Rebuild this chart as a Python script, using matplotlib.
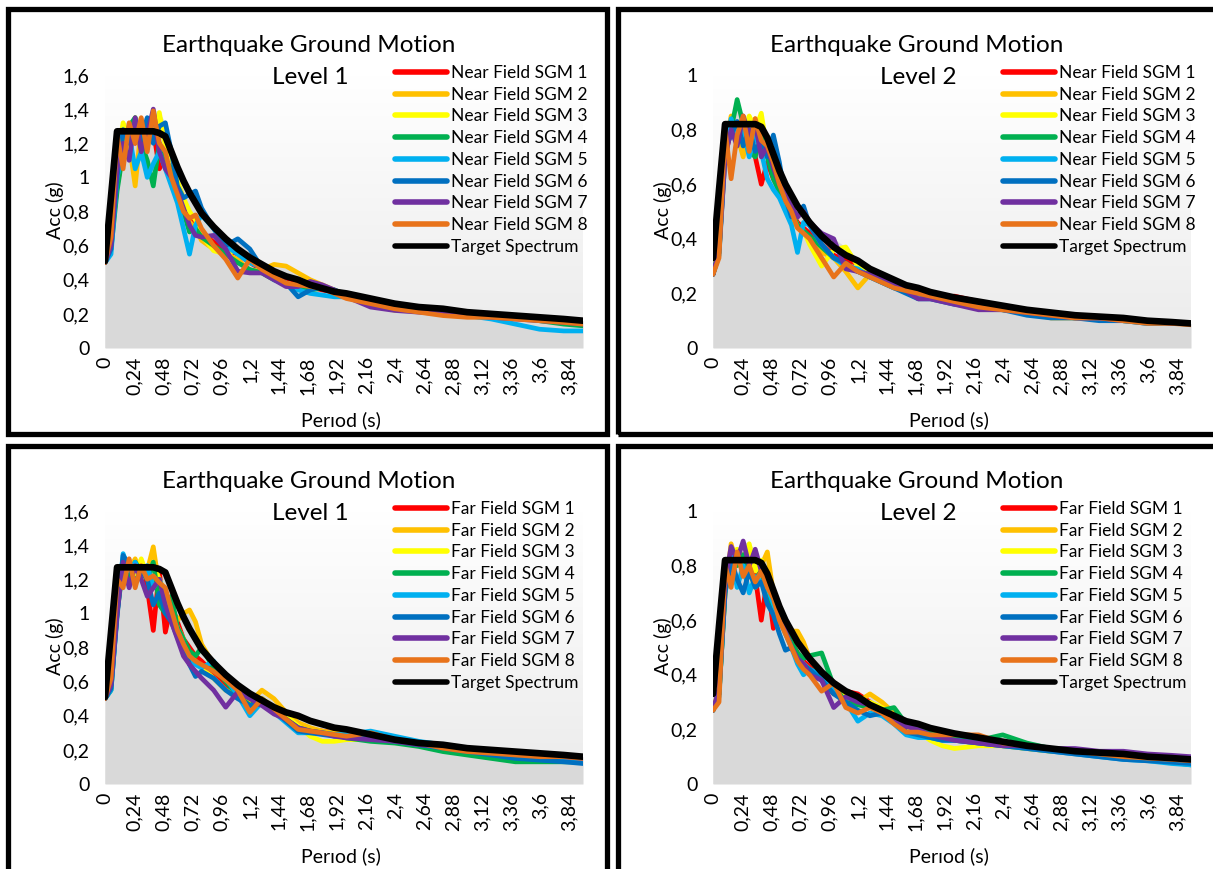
import numpy as np
import matplotlib.pyplot as plt
from matplotlib.patches import Rectangle
from matplotlib.colors import LinearSegmentedColormap

plt.rcParams['font.family'] = ['Lato', 'DejaVu Sans']

# period grid (s) shared by all spectra
periods = [0, 0.05, 0.1, 0.15, 0.2, 0.25, 0.3, 0.35, 0.4, 0.45, 0.5, 0.55, 0.6, 0.65,
           0.7, 0.75, 0.8, 0.9, 1.0, 1.1, 1.2, 1.3, 1.4, 1.5, 1.6, 1.7, 1.8, 1.9,
           2.0, 2.2, 2.4, 2.6, 2.8, 3.0, 3.2, 3.4, 3.6, 3.8, 3.96]

x_ticks = [0, 0.24, 0.48, 0.72, 0.96, 1.2, 1.44, 1.68, 1.92, 2.16, 2.4, 2.64, 2.88,
           3.12, 3.36, 3.6, 3.84]

target_l1 = [0.51, 0.89, 1.27, 1.27, 1.27, 1.27, 1.27, 1.27, 1.27, 1.26, 1.24, 1.15, 1.06,
             0.98, 0.91, 0.85, 0.79, 0.71, 0.64, 0.58, 0.53, 0.49, 0.45, 0.42, 0.40, 0.37,
             0.35, 0.33, 0.32, 0.29, 0.26, 0.24, 0.23, 0.21, 0.20, 0.19, 0.18, 0.17, 0.16]

target_l2 = [0.33, 0.58, 0.82, 0.82, 0.82, 0.82, 0.82, 0.82, 0.81, 0.77, 0.71, 0.65, 0.60,
             0.56, 0.52, 0.49, 0.46, 0.41, 0.37, 0.34, 0.32, 0.29, 0.27, 0.25, 0.23, 0.22,
             0.205, 0.195, 0.185, 0.17, 0.155, 0.14, 0.13, 0.12, 0.115, 0.11, 0.10, 0.095, 0.09]

near_l1 = [
    [0.50, 0.62, 0.95, 1.15, 1.25, 1.20, 1.30, 1.22, 1.28, 1.05, 1.12, 1.00, 0.93, 0.82, 0.76, 0.72, 0.68, 0.62, 0.58, 0.55, 0.50, 0.46, 0.42, 0.41, 0.39, 0.36, 0.34, 0.33, 0.31, 0.27, 0.25, 0.23, 0.22, 0.21, 0.20, 0.19, 0.18, 0.17, 0.16],
    [0.50, 0.60, 1.05, 1.25, 1.20, 0.95, 1.30, 1.18, 1.33, 1.20, 1.10, 1.02, 0.90, 0.80, 0.74, 0.70, 0.63, 0.58, 0.55, 0.52, 0.45, 0.46, 0.49, 0.48, 0.44, 0.40, 0.37, 0.34, 0.31, 0.27, 0.23, 0.22, 0.21, 0.20, 0.19, 0.19, 0.18, 0.17, 0.16],
    [0.50, 0.62, 1.10, 1.32, 1.22, 1.35, 1.20, 1.30, 1.25, 1.38, 1.18, 1.12, 0.98, 0.88, 0.80, 0.75, 0.66, 0.57, 0.55, 0.58, 0.50, 0.48, 0.45, 0.42, 0.40, 0.38, 0.36, 0.33, 0.31, 0.27, 0.22, 0.22, 0.21, 0.20, 0.19, 0.19, 0.18, 0.17, 0.15],
    [0.50, 0.58, 0.92, 1.15, 1.30, 1.35, 1.20, 1.10, 0.95, 1.20, 1.10, 1.05, 0.90, 0.80, 0.68, 0.70, 0.65, 0.60, 0.55, 0.50, 0.46, 0.44, 0.40, 0.38, 0.35, 0.34, 0.35, 0.34, 0.31, 0.27, 0.24, 0.22, 0.21, 0.20, 0.19, 0.18, 0.16, 0.14, 0.13],
    [0.50, 0.55, 1.00, 1.15, 1.25, 1.05, 1.15, 1.00, 1.08, 1.15, 1.05, 0.95, 0.85, 0.70, 0.55, 0.72, 0.78, 0.70, 0.60, 0.55, 0.50, 0.47, 0.40, 0.37, 0.34, 0.32, 0.31, 0.30, 0.30, 0.28, 0.25, 0.23, 0.21, 0.19, 0.17, 0.14, 0.11, 0.10, 0.10],
    [0.50, 0.58, 1.00, 1.28, 1.20, 1.30, 1.22, 1.35, 1.20, 1.30, 1.32, 1.15, 0.95, 0.88, 0.90, 0.92, 0.82, 0.70, 0.60, 0.64, 0.58, 0.47, 0.42, 0.38, 0.30, 0.34, 0.36, 0.34, 0.31, 0.28, 0.25, 0.23, 0.21, 0.20, 0.19, 0.18, 0.17, 0.16, 0.16],
    [0.50, 0.60, 1.05, 1.20, 1.10, 1.35, 1.15, 1.25, 1.40, 1.15, 1.05, 1.00, 0.92, 0.82, 0.72, 0.66, 0.65, 0.66, 0.58, 0.45, 0.44, 0.44, 0.40, 0.36, 0.36, 0.39, 0.37, 0.34, 0.30, 0.24, 0.22, 0.21, 0.20, 0.19, 0.18, 0.17, 0.16, 0.15, 0.14],
    [0.50, 0.65, 1.25, 1.05, 1.32, 1.20, 1.35, 1.15, 1.39, 1.20, 1.15, 1.00, 0.90, 0.80, 0.76, 0.78, 0.70, 0.60, 0.52, 0.41, 0.52, 0.46, 0.42, 0.38, 0.37, 0.36, 0.35, 0.32, 0.29, 0.26, 0.23, 0.21, 0.19, 0.18, 0.18, 0.17, 0.16, 0.15, 0.14],
]

near_l2 = [
    [0.27, 0.35, 0.70, 0.80, 0.78, 0.82, 0.75, 0.70, 0.60, 0.68, 0.62, 0.58, 0.55, 0.50, 0.46, 0.44, 0.42, 0.38, 0.34, 0.32, 0.31, 0.28, 0.26, 0.24, 0.22, 0.20, 0.19, 0.18, 0.19, 0.17, 0.15, 0.14, 0.12, 0.12, 0.11, 0.10, 0.10, 0.09, 0.09],
    [0.27, 0.35, 0.72, 0.85, 0.78, 0.70, 0.80, 0.84, 0.75, 0.70, 0.65, 0.58, 0.52, 0.48, 0.44, 0.42, 0.40, 0.35, 0.33, 0.28, 0.22, 0.27, 0.26, 0.24, 0.22, 0.20, 0.20, 0.18, 0.17, 0.15, 0.14, 0.13, 0.11, 0.11, 0.11, 0.10, 0.10, 0.09, 0.09],
    [0.27, 0.38, 0.75, 0.82, 0.80, 0.78, 0.85, 0.80, 0.86, 0.72, 0.68, 0.62, 0.56, 0.50, 0.45, 0.43, 0.38, 0.30, 0.36, 0.37, 0.30, 0.27, 0.25, 0.24, 0.21, 0.20, 0.19, 0.18, 0.17, 0.15, 0.14, 0.13, 0.12, 0.11, 0.11, 0.10, 0.10, 0.09, 0.09],
    [0.27, 0.36, 0.74, 0.80, 0.91, 0.82, 0.72, 0.70, 0.80, 0.70, 0.62, 0.57, 0.54, 0.50, 0.45, 0.43, 0.41, 0.37, 0.33, 0.31, 0.28, 0.27, 0.25, 0.23, 0.21, 0.20, 0.19, 0.19, 0.18, 0.16, 0.15, 0.14, 0.12, 0.12, 0.11, 0.10, 0.10, 0.09, 0.09],
    [0.27, 0.34, 0.70, 0.84, 0.76, 0.80, 0.70, 0.78, 0.72, 0.62, 0.58, 0.55, 0.50, 0.45, 0.35, 0.46, 0.45, 0.38, 0.33, 0.30, 0.29, 0.26, 0.24, 0.22, 0.21, 0.20, 0.19, 0.18, 0.17, 0.15, 0.14, 0.13, 0.12, 0.11, 0.11, 0.10, 0.09, 0.09, 0.09],
    [0.27, 0.35, 0.73, 0.78, 0.83, 0.74, 0.80, 0.72, 0.76, 0.70, 0.78, 0.68, 0.55, 0.48, 0.48, 0.52, 0.45, 0.38, 0.33, 0.31, 0.28, 0.26, 0.24, 0.22, 0.20, 0.18, 0.18, 0.17, 0.16, 0.15, 0.14, 0.12, 0.11, 0.11, 0.10, 0.10, 0.09, 0.09, 0.09],
    [0.27, 0.36, 0.70, 0.80, 0.74, 0.85, 0.78, 0.82, 0.70, 0.74, 0.66, 0.60, 0.56, 0.52, 0.48, 0.50, 0.46, 0.42, 0.40, 0.29, 0.28, 0.27, 0.26, 0.23, 0.21, 0.18, 0.18, 0.17, 0.16, 0.14, 0.14, 0.13, 0.12, 0.11, 0.11, 0.10, 0.10, 0.09, 0.09],
    [0.27, 0.33, 0.80, 0.62, 0.78, 0.85, 0.72, 0.84, 0.76, 0.74, 0.68, 0.60, 0.54, 0.50, 0.44, 0.42, 0.40, 0.33, 0.26, 0.31, 0.28, 0.26, 0.24, 0.22, 0.21, 0.20, 0.19, 0.18, 0.17, 0.15, 0.14, 0.13, 0.12, 0.11, 0.11, 0.10, 0.09, 0.09, 0.085],
]

far_l1 = [
    [0.50, 0.60, 1.05, 1.25, 1.30, 1.20, 1.28, 1.15, 0.90, 1.25, 0.89, 1.05, 0.95, 0.85, 0.80, 0.75, 0.72, 0.65, 0.58, 0.52, 0.50, 0.47, 0.43, 0.40, 0.35, 0.32, 0.31, 0.30, 0.29, 0.27, 0.26, 0.24, 0.22, 0.20, 0.19, 0.18, 0.17, 0.16, 0.15],
    [0.50, 0.58, 1.02, 1.30, 1.25, 1.32, 1.20, 1.25, 1.39, 1.15, 1.10, 1.00, 0.96, 1.00, 1.02, 0.95, 0.82, 0.70, 0.62, 0.52, 0.48, 0.55, 0.50, 0.42, 0.36, 0.33, 0.31, 0.30, 0.29, 0.29, 0.27, 0.24, 0.22, 0.20, 0.19, 0.18, 0.17, 0.16, 0.15],
    [0.50, 0.60, 1.10, 1.25, 1.30, 1.20, 1.32, 1.22, 1.28, 1.20, 1.12, 1.02, 0.92, 0.85, 0.75, 0.72, 0.68, 0.62, 0.55, 0.52, 0.45, 0.50, 0.45, 0.40, 0.34, 0.28, 0.25, 0.25, 0.26, 0.26, 0.25, 0.23, 0.21, 0.19, 0.18, 0.17, 0.16, 0.15, 0.14],
    [0.50, 0.55, 1.00, 1.28, 1.22, 1.30, 1.25, 1.20, 1.30, 1.05, 1.00, 1.10, 0.92, 0.85, 0.78, 0.75, 0.80, 0.68, 0.60, 0.52, 0.46, 0.50, 0.44, 0.38, 0.33, 0.31, 0.30, 0.29, 0.27, 0.25, 0.24, 0.22, 0.19, 0.17, 0.15, 0.13, 0.13, 0.13, 0.13],
    [0.50, 0.55, 1.00, 1.35, 1.25, 1.30, 1.22, 1.28, 1.15, 1.20, 1.10, 1.00, 0.90, 0.82, 0.72, 0.70, 0.68, 0.72, 0.62, 0.52, 0.40, 0.48, 0.42, 0.36, 0.30, 0.30, 0.30, 0.29, 0.29, 0.31, 0.28, 0.25, 0.23, 0.21, 0.19, 0.17, 0.15, 0.14, 0.13],
    [0.50, 0.56, 0.98, 1.34, 1.28, 1.18, 1.25, 1.20, 1.05, 1.12, 1.00, 0.95, 0.86, 0.82, 0.70, 0.63, 0.66, 0.62, 0.55, 0.50, 0.46, 0.47, 0.43, 0.37, 0.31, 0.30, 0.29, 0.28, 0.28, 0.27, 0.25, 0.23, 0.21, 0.19, 0.17, 0.15, 0.14, 0.13, 0.12],
    [0.50, 0.58, 1.00, 1.30, 1.15, 1.28, 1.20, 1.10, 1.15, 1.20, 1.05, 0.95, 0.85, 0.75, 0.70, 0.66, 0.62, 0.55, 0.45, 0.54, 0.50, 0.46, 0.41, 0.38, 0.33, 0.31, 0.30, 0.28, 0.27, 0.26, 0.25, 0.23, 0.22, 0.20, 0.19, 0.18, 0.17, 0.16, 0.15],
    [0.50, 0.62, 1.20, 1.15, 1.32, 1.15, 1.28, 1.20, 1.22, 1.18, 1.15, 1.02, 0.90, 0.82, 0.75, 0.72, 0.70, 0.66, 0.61, 0.55, 0.42, 0.50, 0.44, 0.38, 0.32, 0.31, 0.30, 0.29, 0.28, 0.30, 0.26, 0.24, 0.21, 0.19, 0.18, 0.17, 0.16, 0.16, 0.15],
]

far_l2 = [
    [0.27, 0.34, 0.72, 0.80, 0.84, 0.78, 0.82, 0.76, 0.60, 0.75, 0.57, 0.65, 0.58, 0.52, 0.48, 0.45, 0.43, 0.38, 0.33, 0.34, 0.33, 0.30, 0.27, 0.25, 0.22, 0.20, 0.19, 0.18, 0.17, 0.16, 0.15, 0.14, 0.13, 0.12, 0.11, 0.10, 0.09, 0.085, 0.08],
    [0.27, 0.33, 0.70, 0.88, 0.80, 0.84, 0.78, 0.72, 0.80, 0.85, 0.70, 0.62, 0.58, 0.56, 0.56, 0.52, 0.46, 0.40, 0.36, 0.32, 0.30, 0.33, 0.30, 0.26, 0.22, 0.20, 0.18, 0.17, 0.16, 0.15, 0.14, 0.13, 0.12, 0.12, 0.11, 0.10, 0.09, 0.085, 0.08],
    [0.27, 0.35, 0.75, 0.84, 0.86, 0.80, 0.88, 0.78, 0.82, 0.75, 0.68, 0.62, 0.57, 0.52, 0.47, 0.44, 0.42, 0.38, 0.34, 0.32, 0.30, 0.30, 0.28, 0.25, 0.21, 0.19, 0.16, 0.14, 0.13, 0.14, 0.14, 0.13, 0.12, 0.12, 0.11, 0.10, 0.09, 0.085, 0.08],
    [0.27, 0.33, 0.70, 0.85, 0.80, 0.84, 0.78, 0.75, 0.78, 0.70, 0.65, 0.60, 0.56, 0.52, 0.48, 0.46, 0.47, 0.48, 0.36, 0.30, 0.29, 0.28, 0.27, 0.28, 0.22, 0.20, 0.19, 0.18, 0.17, 0.16, 0.18, 0.15, 0.13, 0.12, 0.11, 0.10, 0.09, 0.08, 0.07],
    [0.27, 0.32, 0.72, 0.84, 0.72, 0.80, 0.70, 0.76, 0.74, 0.72, 0.66, 0.60, 0.55, 0.50, 0.44, 0.40, 0.42, 0.40, 0.34, 0.30, 0.23, 0.26, 0.25, 0.22, 0.18, 0.17, 0.17, 0.16, 0.16, 0.15, 0.14, 0.13, 0.12, 0.11, 0.10, 0.09, 0.085, 0.075, 0.07],
    [0.27, 0.33, 0.70, 0.82, 0.75, 0.70, 0.78, 0.72, 0.74, 0.66, 0.62, 0.55, 0.49, 0.50, 0.46, 0.44, 0.42, 0.38, 0.33, 0.30, 0.27, 0.25, 0.26, 0.24, 0.19, 0.18, 0.17, 0.16, 0.16, 0.15, 0.14, 0.13, 0.12, 0.11, 0.10, 0.09, 0.085, 0.08, 0.075],
    [0.27, 0.35, 0.74, 0.87, 0.82, 0.89, 0.80, 0.86, 0.78, 0.74, 0.70, 0.62, 0.56, 0.50, 0.46, 0.44, 0.40, 0.38, 0.28, 0.32, 0.30, 0.29, 0.26, 0.24, 0.21, 0.20, 0.18, 0.17, 0.16, 0.15, 0.14, 0.14, 0.13, 0.13, 0.12, 0.12, 0.11, 0.105, 0.10],
    [0.27, 0.30, 0.80, 0.72, 0.85, 0.76, 0.80, 0.74, 0.78, 0.72, 0.68, 0.60, 0.55, 0.50, 0.45, 0.42, 0.40, 0.34, 0.37, 0.28, 0.26, 0.28, 0.26, 0.22, 0.19, 0.19, 0.18, 0.18, 0.18, 0.18, 0.15, 0.14, 0.13, 0.12, 0.11, 0.10, 0.095, 0.09, 0.085],
]

sgm_colors = ['#FF0000', '#FFC000', '#FFFF00', '#00B050', '#00B0F0', '#0070C0',
              '#7030A0', '#E8731A']

W, H = 1213, 869
fig = plt.figure(figsize=(W / 100, H / 100), dpi=100)
bg = LinearSegmentedColormap.from_list('bg', ['#ffffff', '#ebebeb'])


def draw_panel(x0, y0, curves, target, prefix, level, ymax, yticks):
    # x0, y0: pixel offsets of the panel (top-left panel at 0, 0)
    ax = fig.add_axes([(105 + x0) / W, (H - 348 - y0) / H, 478 / W, 273 / H])
    ax.imshow(np.linspace(0, 1, 256).reshape(-1, 1), cmap=bg, aspect='auto',
              extent=[0, 3.96, 0, ymax], zorder=0)
    envelope = np.max(np.array(curves + [target]), axis=0)
    ax.fill_between(periods, 0, envelope, color='#d9d9d9', lw=0, zorder=1)
    for i, (vals, c) in enumerate(zip(curves, sgm_colors)):
        ax.plot(periods, vals, color=c, lw=3.4, solid_joinstyle='round',
                solid_capstyle='round', label=f'{prefix} SGM {i + 1}', zorder=2)
    ax.plot(periods, target, color='#000000', lw=4.8, solid_joinstyle='round',
            solid_capstyle='round', label='Target Spectrum', zorder=3)
    ax.set_xlim(0, 3.96)
    ax.set_ylim(0, ymax)
    ax.set_xticks(x_ticks)
    ax.set_xticklabels([f'{v:g}'.replace('.', ',') for v in x_ticks], rotation=90)
    ax.set_yticks(yticks)
    ax.set_yticklabels([f'{v:g}'.replace('.', ',') for v in yticks])
    ax.tick_params(length=0, labelsize=14)
    ax.tick_params(axis='y', pad=11)
    ax.tick_params(axis='x', pad=6)
    for s in ax.spines.values():
        s.set_visible(False)

    leg = ax.legend(loc='upper left', bbox_to_anchor=((395 + x0) / W, 1 - (65 + y0) / H),
                    bbox_transform=fig.transFigure, frameon=False, fontsize=12.5,
                    handlelength=3.0, handletextpad=0.25, labelspacing=0.33,
                    borderpad=0, borderaxespad=0)
    for line in leg.get_lines():
        line.set_linewidth(4)

    fig.text((309 + x0) / W, 1 - (46 + y0) / H, 'Earthquake Ground Motion',
             ha='center', va='center', fontsize=17.5)
    fig.text((310 + x0) / W, 1 - (78 + y0) / H, level, ha='center', va='center',
             fontsize=17.5)
    fig.text((55 + x0) / W, 1 - (210 + y0) / H, 'Acc (g)', rotation=90,
             ha='center', va='center', fontsize=14)
    fig.text((341 + x0) / W, 1 - (420 + y0) / H, 'Perıod (s)',
             ha='center', va='center', fontsize=14)


draw_panel(0, 0, near_l1, target_l1, 'Near Field', 'Level 1', 1.6,
           [0, 0.2, 0.4, 0.6, 0.8, 1, 1.2, 1.4, 1.6])
draw_panel(608, 0, near_l2, target_l2, 'Near Field', 'Level 2', 1.0,
           [0, 0.2, 0.4, 0.6, 0.8, 1])
draw_panel(0, 436, far_l1, target_l1, 'Far Field', 'Level 1', 1.6,
           [0, 0.2, 0.4, 0.6, 0.8, 1, 1.2, 1.4, 1.6])
draw_panel(608, 436, far_l2, target_l2, 'Far Field', 'Level 2', 1.0,
           [0, 0.2, 0.4, 0.6, 0.8, 1])

# thick black frames around each chart
for (l, t, r, b) in [(8, 9, 607, 434), (618, 9, 1218, 434),
                     (8, 446, 607, 875), (618, 446, 1218, 875)]:
    fig.add_artist(Rectangle((l / W, 1 - b / H), (r - l) / W, (b - t) / H,
                             transform=fig.transFigure, fill=False,
                             ec='black', lw=3.8))

fig.savefig('out.png', dpi=100)
